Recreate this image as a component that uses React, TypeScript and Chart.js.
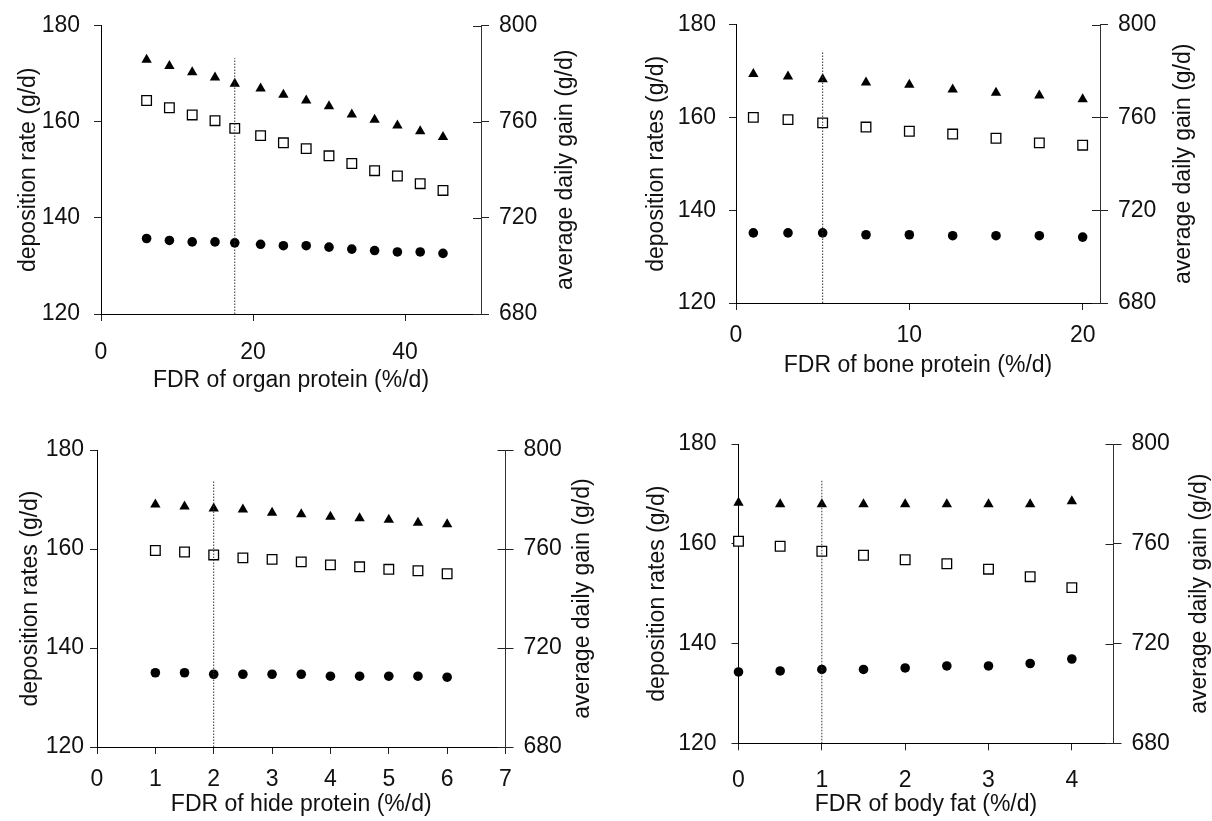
import React, { useEffect, useRef } from 'react';
import { Chart, registerables } from 'chart.js';

Chart.register(...registerables);

// ---------- Panel 1: FDR of organ protein ----------
const organX = [6, 9, 12, 15, 17.6, 21, 24, 27, 30, 33, 36, 39, 42, 45];
const organProtein = [135.7, 135.3, 135.0, 135.0, 134.8, 134.5, 134.2, 134.2, 133.9, 133.5, 133.2, 132.9, 132.9, 132.6];
const organLipid = [164.4, 162.9, 161.4, 160.2, 158.6, 157.1, 155.6, 154.4, 152.9, 151.3, 149.8, 148.7, 147.1, 145.7];
const organADG = [785.8, 783.2, 780.6, 778.4, 775.8, 773.8, 771.2, 768.8, 766.4, 763.0, 760.8, 758.4, 756.0, 753.6];
const organTicks = [0, 20, 40];

// ---------- Panel 2: FDR of bone protein ----------
const boneX = [1, 3, 5, 7.5, 10, 12.5, 15, 17.5, 20];
const boneProtein = [135.1, 135.1, 135.1, 134.7, 134.7, 134.5, 134.5, 134.5, 134.2];
const boneLipid = [160.0, 159.5, 158.8, 157.9, 157.0, 156.4, 155.5, 154.5, 154.0];
const boneADG = [778.7, 777.6, 776.4, 775.0, 774.0, 772.0, 770.6, 769.4, 767.8];
const boneTicks = [0, 10, 20];

// ---------- Panel 3: FDR of hide protein ----------
const hideX = [1, 1.5, 2, 2.5, 3, 3.5, 4, 4.5, 5, 5.5, 6];
const hideProtein = [135.0, 135.0, 134.7, 134.7, 134.7, 134.7, 134.3, 134.3, 134.3, 134.3, 134.1];
const hideLipid = [159.7, 159.4, 158.8, 158.2, 157.9, 157.4, 156.8, 156.4, 155.9, 155.6, 155.0];
const hideADG = [778.0, 777.2, 776.4, 776.0, 774.6, 774.0, 773.0, 772.4, 771.8, 770.6, 770.0];
const hideTicks = [0, 1, 2, 3, 4, 5, 6, 7];

// ---------- Panel 4: FDR of body fat ----------
const fatX = [0, 0.5, 1, 1.5, 2, 2.5, 3, 3.5, 4];
const fatProtein = [134.3, 134.5, 134.8, 134.8, 135.1, 135.5, 135.5, 136.0, 136.9];
const fatLipid = [160.5, 159.5, 158.5, 157.7, 156.8, 156.0, 154.9, 153.4, 151.2];
const fatADG = [776.4, 775.8, 775.8, 775.8, 775.8, 775.8, 775.8, 775.8, 777.0];
const fatTicks = [0, 1, 2, 3, 4];

// left / right axis ticks
const leftTicks = [120, 140, 160, 180];
const rightTicks = [680, 720, 760, 800];
const rightTitle = 'average daily gain (g/d)';

const FONT_FAMILY = "'Liberation Sans', Arial, Helvetica, sans-serif";
const INK = '#111';

type PanelCfg = {
  left: number; top: number; w: number; h: number;
  x: number[]; protein: number[]; lipid: number[]; adg: number[];
  xTicks: number[]; xMax: number; xTitle: string; yTitle: string;
  base: number; baseTop: number;
  padTop: number; leftW: number; rightW: number; xH: number;
  xLabelPad: number; xTitlePad: number; yTitlePad: number; y1TitleX: number;
  yLabelPad: number;
};

const panels: PanelCfg[] = [
  {
    left: 0, top: 0, w: 606, h: 410,
    x: organX, protein: organProtein, lipid: organLipid, adg: organADG,
    xTicks: organTicks, xMax: 50, xTitle: 'FDR of organ protein (%/d)', yTitle: 'deposition rate (g/d)',
    base: 17.6, baseTop: 173.2,
    padTop: 24, leftW: 101, rightW: 125, xH: 96,
    xLabelPad: 20, xTitlePad: 18, yTitlePad: 17.5, y1TitleX: 566, yLabelPad: 14,
  },
  {
    left: 606, top: 0, w: 606, h: 410,
    x: boneX, protein: boneProtein, lipid: boneLipid, adg: boneADG,
    xTicks: boneTicks, xMax: 21, xTitle: 'FDR of bone protein (%/d)', yTitle: 'deposition rates (g/d)',
    base: 5, baseTop: 174.3,
    padTop: 18, leftW: 130, rightW: 112, xH: 107,
    xLabelPad: 14, xTitlePad: 33, yTitlePad: 39.5, y1TitleX: 578, yLabelPad: 13,
  },
  {
    left: 0, top: 410, w: 606, h: 411,
    x: hideX, protein: hideProtein, lipid: hideLipid, adg: hideADG,
    xTicks: hideTicks, xMax: 7, xTitle: 'FDR of hide protein (%/d)', yTitle: 'deposition rates (g/d)',
    base: 2, baseTop: 173.9,
    padTop: 40, leftW: 97, rightW: 100.5, xH: 74,
    xLabelPad: 14, xTitlePad: 4.5, yTitlePad: 19.5, y1TitleX: 583, yLabelPad: 6,
  },
  {
    left: 606, top: 410, w: 606, h: 411,
    x: fatX, protein: fatProtein, lipid: fatLipid, adg: fatADG,
    xTicks: fatTicks, xMax: 4.5, xTitle: 'FDR of body fat (%/d)', yTitle: 'deposition rates (g/d)',
    base: 1, baseTop: 172.8,
    padTop: 34, leftW: 132.5, rightW: 98.5, xH: 77.7,
    xLabelPad: 19, xTitlePad: 4.5, yTitlePad: 40.5, y1TitleX: 594, yLabelPad: 15,
  },
];

const innerTicks = {
  id: 'innerTicks',
  afterDraw(chart: any) {
    const s = chart.scales.y1;
    const c = chart.ctx;
    c.save();
    c.strokeStyle = '#222';
    c.lineWidth = 1;
    s.ticks.forEach((t: any) => {
      const y = Math.round(s.getPixelForValue(t.value)) + 0.5;
      c.beginPath();
      c.moveTo(s.left - 8, y);
      c.lineTo(s.left, y);
      c.stroke();
    });
    c.restore();
  },
};

function makeRightTitle(xCenter: number) {
  return {
    id: 'rightTitle',
    afterDraw(chart: any) {
      const c = chart.ctx;
      const area = chart.chartArea;
      c.save();
      c.translate(xCenter, (area.top + area.bottom) / 2);
      c.rotate(-Math.PI / 2);
      c.font = `23px ${FONT_FAMILY}`;
      c.fillStyle = INK;
      c.textAlign = 'center';
      c.textBaseline = 'middle';
      c.fillText(rightTitle, 0, 0);
      c.restore();
    },
  };
}

function Panel({ cfg }: { cfg: PanelCfg }) {
  const ref = useRef<HTMLCanvasElement>(null);
  useEffect(() => {
    const canvas = ref.current;
    if (!canvas) return;
    const pts = (xs: number[], ys: number[]) => xs.map((x, i) => ({ x, y: ys[i] }));
    const tickFont = { family: FONT_FAMILY, size: 23, lineHeight: 1 };
    const titleFont = { family: FONT_FAMILY, size: 23, lineHeight: 1 };
    const chart = new Chart(canvas, {
      type: 'scatter',
      data: {
        datasets: [
          {
            label: 'baseline',
            data: [{ x: cfg.base, y: 120 }, { x: cfg.base, y: cfg.baseTop }],
            yAxisID: 'y',
            showLine: true,
            borderColor: '#333',
            borderWidth: 1,
            borderDash: [1.5, 1.5],
            pointRadius: 0,
            clip: false,
          } as any,
          {
            label: 'average daily gain',
            data: pts(cfg.x, cfg.adg),
            yAxisID: 'y1',
            pointStyle: 'triangle',
            pointRadius: 6,
            backgroundColor: '#000',
            borderColor: '#000',
            borderWidth: 0,
            clip: false,
          } as any,
          {
            label: 'lipid deposition',
            data: pts(cfg.x, cfg.lipid),
            yAxisID: 'y',
            pointStyle: 'rect',
            pointRadius: 6.8,
            backgroundColor: '#fff',
            borderColor: '#000',
            borderWidth: 1.3,
            clip: false,
          } as any,
          {
            label: 'protein deposition',
            data: pts(cfg.x, cfg.protein),
            yAxisID: 'y',
            pointStyle: 'circle',
            pointRadius: 4.8,
            backgroundColor: '#000',
            borderColor: '#000',
            borderWidth: 0,
            clip: false,
          } as any,
        ],
      },
      options: {
        animation: false,
        responsive: false,
        devicePixelRatio: 1,
        events: [],
        plugins: { legend: { display: false }, tooltip: { enabled: false } },
        layout: { padding: { top: cfg.padTop, left: 0, right: 0, bottom: 0 } },
        scales: {
          x: {
            type: 'linear',
            min: 0,
            max: cfg.xMax,
            afterBuildTicks: (s: any) => { s.ticks = cfg.xTicks.map((v) => ({ value: v })); },
            afterFit: (s: any) => { s.height = cfg.xH; },
            ticks: {
              font: tickFont, color: INK, padding: cfg.xLabelPad,
              maxRotation: 0, autoSkip: false, callback: (v: any) => String(v),
            },
            grid: { display: true, drawOnChartArea: false, drawTicks: true, tickLength: 7, color: '#222', tickColor: '#222', lineWidth: 1 },
            border: { display: true, color: '#000', width: 1 },
            title: { display: true, text: cfg.xTitle, font: titleFont, color: INK, padding: { top: 0, bottom: cfg.xTitlePad } },
          },
          y: {
            type: 'linear',
            position: 'left',
            min: 120,
            max: 180,
            afterBuildTicks: (s: any) => { s.ticks = leftTicks.map((v) => ({ value: v })); },
            afterFit: (s: any) => { s.width = cfg.leftW; },
            ticks: { font: tickFont, color: INK, padding: cfg.yLabelPad, callback: (v: any) => String(v) },
            grid: { display: true, drawOnChartArea: false, drawTicks: true, tickLength: 7, color: '#222', tickColor: '#222', lineWidth: 1 },
            border: { display: true, color: '#000', width: 1 },
            title: { display: true, text: cfg.yTitle, font: titleFont, color: INK, padding: { top: cfg.yTitlePad, bottom: 0 } },
          },
          y1: {
            type: 'linear',
            position: 'right',
            min: 680,
            max: 800,
            afterBuildTicks: (s: any) => { s.ticks = rightTicks.map((v) => ({ value: v })); },
            afterFit: (s: any) => { s.width = cfg.rightW; },
            ticks: { font: tickFont, color: INK, padding: 10, callback: (v: any) => String(v) },
            grid: { display: true, drawOnChartArea: false, drawTicks: true, tickLength: 8, color: '#222', tickColor: '#222', lineWidth: 1 },
            border: { display: true, color: '#333', width: 1 },
            title: { display: false },
          },
        },
      } as any,
      plugins: [innerTicks, makeRightTitle(cfg.y1TitleX)],
    });
    return () => chart.destroy();
  }, [cfg]);
  return (
    <canvas
      ref={ref}
      width={cfg.w}
      height={cfg.h}
      style={{ position: 'absolute', left: cfg.left, top: cfg.top, width: cfg.w, height: cfg.h }}
    />
  );
}

export default function App() {
  return (
    <div style={{ position: 'absolute', left: 0, top: 0, width: 1212, height: 821, background: '#fff', overflow: 'hidden' }}>
      {panels.map((p, i) => (
        <Panel key={i} cfg={p} />
      ))}
    </div>
  );
}
